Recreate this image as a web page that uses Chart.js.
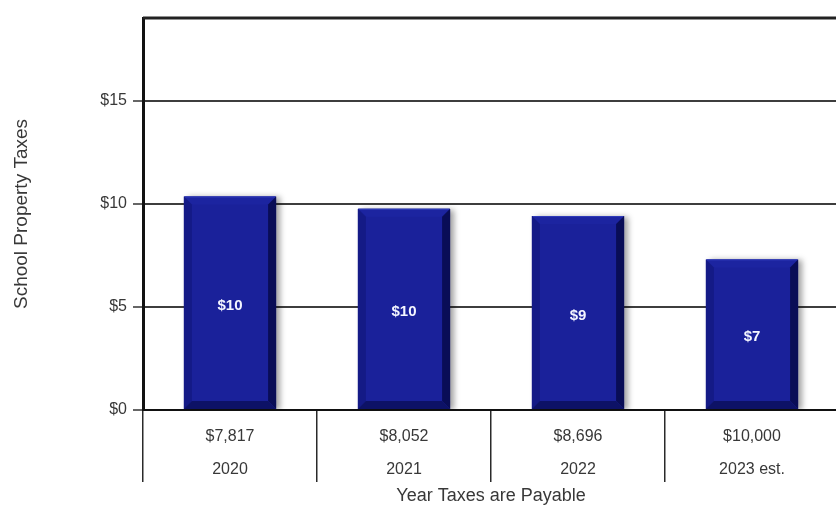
<!DOCTYPE html>
<html>
<head>
<meta charset="utf-8">
<title>School Property Taxes</title>
<script src="https://cdn.jsdelivr.net/npm/chart.js@4.4.0/dist/chart.umd.min.js"></script>
<style>
  html, body { margin: 0; padding: 0; background: #ffffff; overflow: hidden; }
  #wrap { width: 845px; height: 507px; }
</style>
</head>
<body>
<div id="wrap"><canvas id="chart" width="845" height="507"></canvas></div>
<script>
// Year the taxes are payable, and the taxable value shown under each year
const YEARS = ['2020', '2021', '2022', '2023 est.'];
const TAXABLE_VALUES = ['$7,817', '$8,052', '$8,696', '$10,000'];
// School property taxes per year (dollars)
const SCHOOL_TAXES = [10.35, 9.75, 9.40, 7.30];
// Value axis range and step
const Y_MAX = 19;
const Y_STEP = 5;

const FONT = '"Liberation Sans", Arial, Helvetica, sans-serif';
const TEXT = '#383838';

// Two-line category labels: taxable value over the year
const categoryLabels = YEARS.map((year, i) => [TAXABLE_VALUES[i], year]);

// Line along the top of the plot area
const plotFrame = {
  id: 'plotFrame',
  afterDraw(chart) {
    const { ctx, chartArea } = chart;
    ctx.save();
    ctx.strokeStyle = '#222222';
    ctx.lineWidth = 3;
    ctx.beginPath();
    ctx.moveTo(chartArea.left, chartArea.top);
    ctx.lineTo(chartArea.right, chartArea.top);
    ctx.stroke();
    ctx.restore();
  }
};

// Drop shadow behind the bars, bevelled edges on top, and the value in the middle
const bevelBars = {
  id: 'bevelBars',
  beforeDatasetsDraw(chart) {
    const ctx = chart.ctx;
    ctx.save();
    ctx.shadowColor = 'rgba(0, 0, 0, 0.38)';
    ctx.shadowBlur = 6;
    ctx.shadowOffsetX = 4;
    ctx.shadowOffsetY = 1;
  },
  afterDatasetsDraw(chart) {
    const ctx = chart.ctx;
    ctx.restore();
    const values = chart.data.datasets[0].data;
    const face = (pts, color) => {
      ctx.beginPath();
      ctx.moveTo(pts[0][0], pts[0][1]);
      for (let k = 1; k < pts.length; k++) ctx.lineTo(pts[k][0], pts[k][1]);
      ctx.closePath();
      ctx.fillStyle = color;
      ctx.fill();
    };
    chart.getDatasetMeta(0).data.forEach((bar, i) => {
      const { x, y, base, width } = bar.getProps(['x', 'y', 'base', 'width'], true);
      const l = x - width / 2, r = x + width / 2, t = y, b = base;
      const e = Math.min(8, (r - l) / 4, (b - t) / 4);
      ctx.save();
      face([[l, t], [r, t], [r - e, t + e], [l + e, t + e]], '#1c24a0');
      face([[l, t], [l + e, t + e], [l + e, b - e], [l, b]], '#141a86');
      face([[r, t], [r, b], [r - e, b - e], [r - e, t + e]], '#090d56');
      face([[l, b], [l + e, b - e], [r - e, b - e], [r, b]], '#0d1266');
      ctx.strokeStyle = '#303cba';
      ctx.lineWidth = 1;
      ctx.beginPath();
      ctx.moveTo(l + 1, t + 0.5);
      ctx.lineTo(r - 1, t + 0.5);
      ctx.stroke();

      ctx.fillStyle = '#f4f6ff';
      ctx.font = 'bold 15px ' + FONT;
      ctx.textAlign = 'center';
      ctx.textBaseline = 'middle';
      ctx.fillText('$' + Math.round(values[i]), x, (t + b) / 2 + 3);
      ctx.restore();
    });
  }
};

new Chart(document.getElementById('chart'), {
  type: 'bar',
  data: {
    labels: categoryLabels,
    datasets: [{
      label: 'School Property Taxes',
      data: SCHOOL_TAXES,
      backgroundColor: '#1a219a',
      borderWidth: 0,
      barPercentage: 0.53,
      categoryPercentage: 1.0
    }]
  },
  options: {
    responsive: false,
    animation: false,
    layout: { padding: { top: 18, right: 6, left: 0, bottom: 0 } },
    plugins: {
      legend: { display: false },
      tooltip: { enabled: false }
    },
    scales: {
      x: {
        type: 'category',
        offset: true,
        afterFit(scale) { scale.height = 97; },
        grid: {
          offset: true,
          drawOnChartArea: false,
          drawTicks: true,
          tickLength: 72,
          color: '#2a2a2a',
          lineWidth: 1.5
        },
        border: { display: true, color: '#111111', width: 2 },
        ticks: {
          color: TEXT,
          font: { family: FONT, size: 16, lineHeight: 33 / 16 },
          padding: -61.5,
          maxRotation: 0,
          autoSkip: false
        },
        title: {
          display: true,
          text: 'Year Taxes are Payable',
          color: TEXT,
          font: { family: FONT, size: 18 },
          padding: { top: 0, bottom: 0 }
        }
      },
      y: {
        min: 0,
        max: Y_MAX,
        afterFit(scale) { scale.width = 143; },
        grid: {
          color: '#3d3d3d',
          lineWidth: 2,
          tickLength: 10,
          tickColor: '#333333',
          tickWidth: 1.5
        },
        border: { display: true, color: '#111111', width: 3 },
        ticks: {
          stepSize: Y_STEP,
          includeBounds: false,
          padding: 6,
          color: TEXT,
          font: { family: FONT, size: 16 },
          callback: (v) => '$' + v
        },
        title: {
          display: true,
          text: 'School Property Taxes',
          color: TEXT,
          font: { family: FONT, size: 19 },
          padding: { top: 10.6, bottom: 0 }
        }
      }
    }
  },
  plugins: [plotFrame, bevelBars]
});
</script>
</body>
</html>
